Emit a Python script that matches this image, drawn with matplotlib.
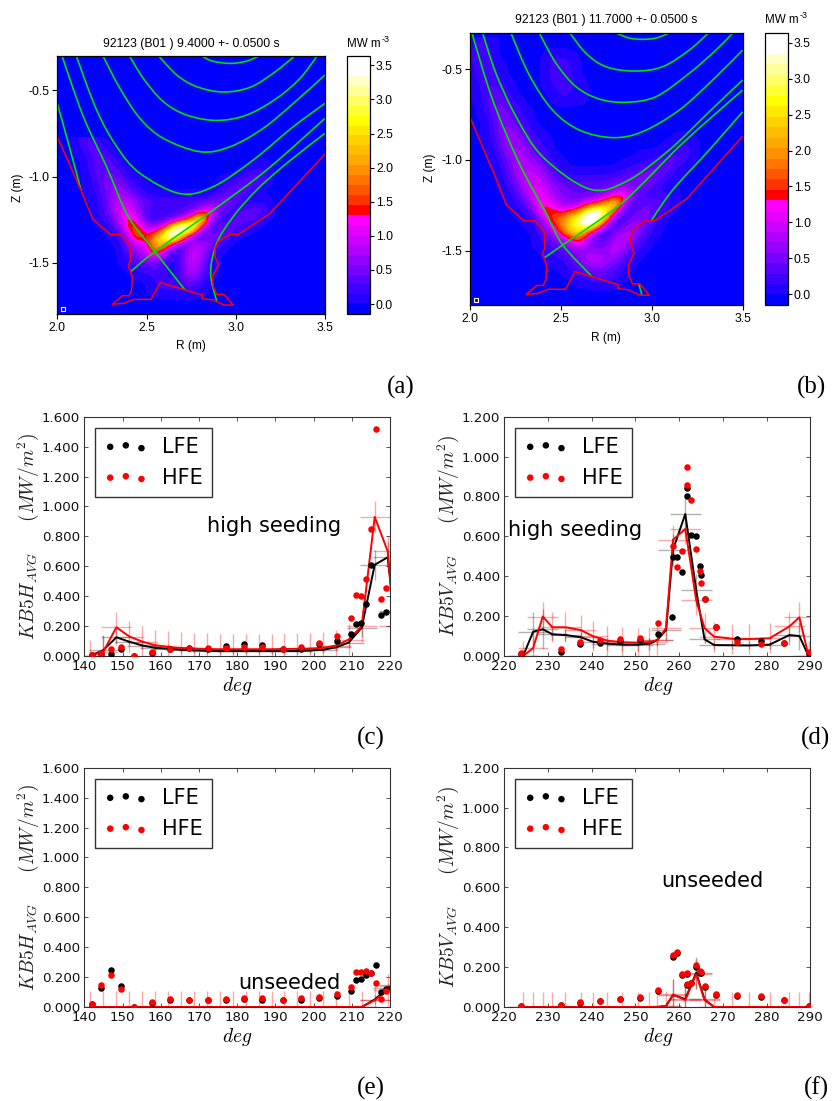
"""Tomographic radiation maps and KB5 bolometer profiles (panels a-f)."""

import numpy as np
import matplotlib

matplotlib.use("Agg")
import matplotlib.pyplot as plt
from matplotlib.colors import BoundaryNorm, ListedColormap
from matplotlib.patches import PathPatch
from matplotlib.path import Path

plt.rcParams["mathtext.fontset"] = "cm"

W, H = 832, 1101

# --- radiation maps: rows in 0.1 MW/m3, columns R = 2.00 .. 3.25 in 0.05 steps
MAP_R = np.arange(26) * 0.05 + 2.0
MAP_A_ZTOP = -0.80
MAP_A = [
    [0,0,0,3,3,0,0,0,0,0,0,0,0,0,0,0,0,0,0,0,0,0,0,0,0,0],
    [0,0,0,2,4,3,0,0,0,0,0,0,0,0,0,0,0,0,0,0,0,0,0,0,0,0],
    [0,0,0,0,3,4,3,0,0,0,0,0,0,0,0,0,0,0,0,0,0,0,0,0,0,0],
    [0,0,0,0,3,4,4,2,0,0,0,0,0,0,0,0,0,0,0,0,0,0,0,1,0,0],
    [0,0,0,0,2,4,5,4,1,0,0,0,0,0,0,0,0,0,0,0,0,2,4,4,0,0],
    [0,0,0,0,1,4,6,6,3,1,0,0,0,0,0,0,0,0,0,2,3,5,4,0,0,0],
    [0,0,0,0,1,3,6,8,6,3,1,0,0,0,0,0,0,0,2,4,5,3,0,0,0,0],
    [0,0,0,0,0,2,6,9,9,6,4,3,3,3,3,3,3,4,6,6,3,0,0,1,0,0],
    [0,0,0,0,0,2,6,10,12,7,3,2,2,2,2,3,7,15,6,3,2,3,5,4,0,0],
    [0,0,0,0,0,1,4,9,15,10,3,1,2,4,8,18,34,12,3,1,3,5,3,0,0,0],
    [0,0,0,0,0,0,1,6,15,17,8,8,14,30,42,40,13,3,2,5,4,1,0,0,0,0],
    [0,0,0,0,0,0,0,2,9,18,15,19,32,42,22,6,1,5,6,2,0,0,0,0,0,0],
    [0,0,0,0,0,0,0,0,6,9,11,24,22,8,2,7,9,7,2,0,0,0,0,0,0,0],
    [0,0,0,0,0,0,0,0,3,6,9,15,8,1,4,10,9,3,0,0,0,0,0,0,0,0],
    [0,0,0,0,0,0,0,0,1,4,5,5,3,0,4,10,7,2,0,0,0,0,0,0,0,0],
    [0,0,0,0,0,0,0,0,0,1,2,2,2,0,4,9,6,1,0,0,0,0,0,0,0,0],
    [0,0,0,0,0,0,0,0,0,0,0,2,2,1,3,6,3,0,0,0,0,0,0,0,0,0],
    [0,0,0,0,0,0,0,0,0,0,0,1,2,2,2,3,1,0,0,0,0,0,0,0,0,0],
    [0,0,0,0,0,0,0,0,0,0,0,0,0,0,0,0,0,0,0,0,0,0,0,0,0,0],
]
MAP_B_ZTOP = -0.35
MAP_B = [
    [0,2,1,0,0,0,0,0,0,0,0,0,0,0,0,0,0,0,0,0,0,0,0,0,0,0],
    [1,3,2,0,0,0,0,0,0,0,0,0,0,0,0,0,0,0,0,0,0,0,0,0,0,0],
    [1,3,3,0,0,0,0,0,0,2,2,1,0,0,0,0,0,0,0,0,0,0,0,0,0,0],
    [0,3,3,1,0,0,0,0,0,2,3,2,0,0,0,0,0,0,0,0,0,0,0,0,0,0],
    [0,2,3,2,0,0,0,0,0,2,3,2,0,0,0,0,0,0,0,0,0,0,0,0,0,0],
    [0,1,3,3,1,0,0,0,0,1,2,2,1,0,0,0,0,0,0,0,0,0,0,0,0,0],
    [0,1,3,4,2,0,0,0,0,0,2,1,1,0,0,0,0,0,0,0,0,0,0,0,0,0],
    [0,0,3,5,4,2,0,0,0,0,0,0,0,0,0,0,0,0,0,0,0,0,0,0,0,0],
    [0,0,2,5,5,3,1,0,0,0,0,0,0,0,0,0,0,0,0,0,0,0,0,0,0,0],
    [0,0,0,5,6,4,2,0,0,0,0,0,0,0,0,0,0,0,0,0,0,0,0,0,0,0],
    [0,0,1,4,7,6,4,1,0,0,0,0,0,0,0,0,0,0,0,0,0,0,0,0,0,0],
    [0,0,0,3,7,7,5,3,1,0,0,0,0,0,0,0,0,0,0,0,0,0,0,1,1,0],
    [0,0,0,2,6,8,7,4,2,0,0,0,0,0,0,0,0,0,0,0,0,0,2,3,2,0],
    [0,0,0,1,4,8,8,6,4,1,0,0,0,0,0,0,0,0,0,1,1,3,4,3,1,0],
    [0,0,0,0,3,7,9,8,6,3,1,0,0,0,0,0,0,1,2,3,5,5,3,1,0,0],
    [0,0,0,0,2,6,9,10,8,5,3,2,2,2,2,2,3,4,5,6,5,3,1,0,0,0],
    [0,0,0,0,1,4,8,11,10,7,5,4,4,4,4,5,5,6,6,5,3,1,0,0,0,0],
    [0,0,0,0,0,2,6,11,11,8,6,5,4,4,5,7,13,16,5,2,2,2,2,0,0,0],
    [0,0,0,0,0,1,3,8,15,12,7,6,8,14,18,24,30,6,2,4,5,3,1,0,0,0],
    [0,0,0,0,0,0,1,4,12,16,15,19,24,36,42,30,8,1,4,6,4,1,0,0,0,0],
    [0,0,0,0,0,0,0,1,6,14,19,26,32,42,30,10,1,4,7,6,3,0,0,0,0,0],
    [0,0,0,0,0,0,0,0,3,7,15,23,26,16,5,1,5,8,8,4,1,0,0,0,0,0],
    [0,0,0,0,0,0,0,0,2,4,6,10,15,6,3,4,9,9,5,2,0,0,0,0,0,0],
    [0,0,0,0,0,0,0,0,0,2,3,5,6,7,6,7,9,6,3,0,0,0,0,0,0,0],
    [0,0,0,0,0,0,0,0,0,1,1,3,5,9,9,7,6,3,0,0,0,0,0,0,0,0],
    [0,0,0,0,0,0,0,0,0,0,0,2,3,5,6,5,3,1,0,0,0,0,0,0,0,0],
    [0,0,0,0,0,0,0,0,0,0,0,0,1,2,3,3,2,0,0,0,0,0,0,0,0,0],
    [0,0,0,0,0,0,0,0,0,0,0,0,0,0,0,0,0,0,0,0,0,0,0,0,0,0],
]

# first wall outline, same in both maps
WALL_R = [2.0,2.136,2.198,2.295,2.355,2.407,2.411,2.398,2.42,2.417,2.402,2.366,2.308,2.37,
          2.432,2.525,2.577,2.813,2.813,2.874,2.934,2.986,2.934,2.893,2.874,2.87,2.902,
          2.884,2.884,2.902,2.964,3.014,3.192,3.313,3.5]
WALL_Z = [-0.768,-1.088,-1.246,-1.336,-1.336,-1.397,-1.485,-1.517,-1.581,-1.659,-1.692,-1.692,
          -1.742,-1.736,-1.713,-1.713,-1.616,-1.688,-1.709,-1.717,-1.746,-1.746,-1.684,-1.684,
          -1.639,-1.581,-1.514,-1.465,-1.417,-1.378,-1.336,-1.336,-1.214,-1.078,-0.869]

# flux surfaces (R, Z)
FLUX_A = [
    ([2.81,2.87,2.97,3.06,3.13], [-0.30,-0.33,-0.343,-0.33,-0.30]),
    ([2.572,2.669,2.781,2.93,3.08,3.21,3.326], [-0.304,-0.41,-0.478,-0.509,-0.482,-0.40,-0.304]),
    ([2.407,2.482,2.594,2.725,2.893,3.061,3.229,3.36,3.453],
     [-0.304,-0.43,-0.565,-0.643,-0.674,-0.643,-0.546,-0.43,-0.304]),
    ([2.258,2.351,2.463,2.594,2.80,2.968,3.154,3.323,3.5],
     [-0.304,-0.488,-0.662,-0.778,-0.856,-0.827,-0.72,-0.575,-0.41]),
    ([2.108,2.22,2.333,2.463,2.687,2.874,3.098,3.323,3.5],
     [-0.304,-0.613,-0.826,-0.981,-1.099,-1.059,-0.904,-0.71,-0.575]),
    ([2.028,2.146,2.276,2.398,2.547,2.716], [-0.304,-0.652,-0.943,-1.233,-1.436,-1.659]),
    ([2.411,2.547,2.874,3.173,3.5], [-1.552,-1.436,-1.194,-0.962,-0.662]),
    ([2.0,2.052,2.133], [-0.575,-0.768,-1.078]),
    ([2.893,2.859,2.893,2.986,3.117,3.285,3.5], [-1.723,-1.562,-1.388,-1.233,-1.078,-0.923,-0.749]),
]
FLUX_B = [
    ([2.802,2.876,2.949,3.023,3.096], [-0.30,-0.328,-0.335,-0.328,-0.30]),
    ([2.549,2.637,2.747,2.903,3.059,3.206,3.311], [-0.30,-0.412,-0.486,-0.51,-0.486,-0.394,-0.30]),
    ([2.38,2.472,2.582,2.71,2.857,3.023,3.206,3.353,3.445],
     [-0.30,-0.467,-0.596,-0.664,-0.682,-0.651,-0.522,-0.394,-0.30]),
    ([2.224,2.325,2.453,2.60,2.784,2.949,3.151,3.335,3.5],
     [-0.30,-0.532,-0.725,-0.835,-0.877,-0.844,-0.725,-0.559,-0.394]),
    ([2.068,2.141,2.252,2.398,2.655,2.857,3.096,3.316,3.5],
     [-0.30,-0.522,-0.761,-0.982,-1.16,-1.12,-0.945,-0.734,-0.559]),
    ([2.009,2.123,2.27,2.417,2.509,2.665], [-0.30,-0.669,-1.019,-1.294,-1.469,-1.638]),
    ([2.408,2.509,2.839,3.169,3.5], [-1.539,-1.469,-1.234,-0.908,-0.614]),
    ([2.999,3.114,3.316,3.5], [-1.331,-1.166,-0.945,-0.734]),
    ([2.945,2.927], [-1.745,-1.68]),
]

# --- KB5H profiles
H_GRID = [141.6,145,148.4,151.8,155.2,158.5,161.9,165.3,168.7,172.1,175.4,178.8,182.2,185.6,189,
          192.3,195.7,199.1,202.5,205.9,209.2,212.6,216,219.4,221]
C_LINE_LFE = [0,.04,.125,.095,.07,.055,.048,.042,.038,.035,.033,.033,.033,.033,.033,
              .033,.034,.037,.042,.058,.09,.19,.61,.66,.3]
C_LINE_HFE = [0,.03,.192,.13,.096,.072,.06,.054,.05,.047,.045,.045,.045,.045,.045,
              .047,.048,.05,.055,.07,.11,.2,.93,.70,.2]
C_ERR_LFE = [0,.1,.05,.02,.02,.02,.02,.02,.02,.02,.02,.02,.02,.02,.02,
             .02,.02,.02,.02,.02,.03,.06,.1,.1,.1]
E_LINE_LFE = [0]*21 + [0,.05,.125,.15]
E_LINE_HFE = [0]*21 + [0,.045,.115,.14]
E_ERR_LFE = [.005]*22 + [.03,.03,.03]

H_DEG = [142,144.4,147,149.6,153,157.8,162.4,167.3,172.4,177,181.9,186.6,192,196.7,201.5,206.2,
         209.7,211,212.3,213.7,215,216.3,217.6,219]
C_LFE = [.005,.012,.013,.047,0,.02,.05,.055,.05,.065,.08,.073,.05,.05,.078,.103,
         .147,.217,.223,.346,.61,np.nan,.275,.297]
C_HFE = [.01,.018,.045,.063,0,.027,.05,.052,.055,.055,.06,.062,.05,.06,.085,.136,
         .255,.41,.40,.516,.85,1.515,.38,.454]
E_LFE = [.02,.125,.248,.139,0,.03,.05,.045,.045,.045,.051,.05,.045,.047,.063,.074,
         .105,.179,.19,.215,.23,.284,.098,.118]
E_HFE = [.022,.145,.215,.123,0,.033,.054,.049,.049,.051,.058,.058,.047,.058,.069,.085,
         .134,.235,.235,.239,.23,.161,.056,.11]

# --- KB5V profiles
V_GRID = [224.3,226.6,228.8,231,234,237.5,240.2,243.6,247,250.5,253.2,255,257,258.6,261.4,263.9,
          265.8,268,272,276,280.7,285.2,287.5,289.6]
D_LINE_LFE = [0,.122,.134,.109,.105,.094,.072,.062,.057,.057,.062,.08,.13,.533,.712,.33,
              .084,.055,.054,.053,.057,.105,.1,0]
D_LINE_HFE = [0,.04,.198,.144,.144,.13,.1,.077,.069,.067,.07,.08,.14,.583,.637,.28,
              .14,.097,.087,.085,.089,.148,.194,0]
D_ERR_LFE = [0,.1,.1,.03,.03,.03,.03,.03,.03,.03,.03,.03,.05,.08,.08,.08,
             .02,.02,.02,.02,.02,.05,.07,0]
F_LINE_LFE = [0]*12 + [.005,.06,.04,.172,.038,0,0,0,0,0,0,0]
F_LINE_HFE = [0]*12 + [.005,.063,.035,.165,.035,0,0,0,0,0,0,0]
F_ERR_LFE = [.005]*13 + [.08,.08,.08,.08] + [.005]*7

V_DEG = [223.8,232.9,237.4,242,246.5,251,255.2,258.3,258.7,259.5,260.6,261.7,261.7,262.8,263.9,
         264.7,265,266,268.4,273.2,278.7,284,289.6]
D_LFE = [.01,.022,.06,.064,.077,.08,.11,.198,.494,.496,.419,.804,.843,.608,.6,
         .449,.404,.287,.146,.084,.074,.064,.01]
D_HFE = [.015,.033,.072,.08,.087,.092,.165,np.nan,.553,.447,.528,.855,.947,.78,.536,
         .424,.367,.287,.146,.072,.062,.064,.018]
F_LFE = [.005,.01,.02,.03,.04,.045,.08,np.nan,.25,.27,.16,.165,.11,.12,.2,
         .17,.17,.1,.06,.055,.05,.035,.005]
F_HFE = [.005,.01,.023,.03,.04,.049,.087,np.nan,.26,.277,.163,.169,.114,.122,.21,
         .179,.178,.106,.064,.06,.057,.037,.007]

BAND_COLORS = ["#0000ff", "#2200ff", "#3f00ff", "#5a00ff", "#7800ff", "#9500ff", "#b200ff",
               "#cc00ff", "#e500ff", "#ff00ff", "#ff0000", "#ff3300", "#ff5500", "#ff7500",
               "#ff9000", "#ffa800", "#ffbd00", "#ffd200", "#ffe800", "#ffff00", "#ffff33",
               "#ffff66", "#ffff99", "#ffffcc", "#ffffff", "#ffffff"]
LFE_COLOR = "black"
HFE_COLOR = "red"
SANS = "Liberation Sans"


def px_axes(fig, left, top, right, bottom):
    return fig.add_axes([left / W, 1 - bottom / H, (right - left) / W, (bottom - top) / H])


def px_text(fig, x, y, s, **kw):
    kw.setdefault("ha", "center")
    kw.setdefault("va", "center")
    fig.text(x / W, 1 - y / H, s, **kw)


def smooth_path(r, z):
    """Bezier path running through the read-off points of one flux surface."""
    pts = np.column_stack([r, z])
    if len(pts) < 3:
        return Path(pts)
    padded = np.vstack([pts[0], pts, pts[-1]])
    verts = [pts[0]]
    for i in range(1, len(padded) - 2):
        p0, p1, p2, p3 = padded[i - 1], padded[i], padded[i + 1], padded[i + 2]
        verts += [p1 + (p2 - p0) / 6, p2 - (p3 - p1) / 6, p2]
    codes = [Path.MOVETO] + [Path.CURVE4] * (len(verts) - 1)
    return Path(verts, codes)


def plot_map(fig, box, cbox, heat, ztop, flux, title, title_xy, unit_xy, xlabel_xy, ylabel_xy):
    ax = px_axes(fig, *box)
    cax = px_axes(fig, *cbox)
    bounds = np.linspace(-0.15, 3.637, 27)
    bounds[1] = 0.01
    norm = BoundaryNorm(bounds, len(BAND_COLORS))
    cmap = ListedColormap(BAND_COLORS)

    values = np.array(heat) / 10.0
    zbot = ztop - 0.05 * (len(heat) - 1)
    ax.set_facecolor("#0000ff")
    im = ax.imshow(values, cmap=cmap, norm=norm, aspect="auto", interpolation="bicubic",
                   interpolation_stage="data",
                   extent=(MAP_R[0] - 0.025, MAP_R[-1] + 0.025, zbot - 0.025, ztop + 0.025))
    for r, z in flux:
        ax.add_patch(PathPatch(smooth_path(r, z), fill=False, edgecolor="#00e000", lw=1.2))
    ax.plot(WALL_R, WALL_Z, color="#ff0000", lw=1.1)
    ax.plot([2.03], [-1.77], "s", mfc="#0000ff", mec="white", ms=3, mew=0.8)

    ax.set_xlim(2.0, 3.5)
    ax.set_ylim(-1.8, -0.3)
    ax.set_xticks([2.0, 2.5, 3.0, 3.5])
    ax.set_yticks([-0.5, -1.0, -1.5])
    ax.set_yticklabels(["-0.5", "-1.0", "-1.5"])
    ax.tick_params(direction="out", length=3.5, width=0.8, labelsize=8.7, pad=2)
    for label in ax.get_xticklabels() + ax.get_yticklabels():
        label.set_fontfamily(SANS)
    for spine in ax.spines.values():
        spine.set_linewidth(0.9)

    cb = fig.colorbar(im, cax=cax, ticks=[0, 0.5, 1, 1.5, 2, 2.5, 3, 3.5], format="%.1f",
                      spacing="proportional")
    cb.minorticks_off()
    cb.ax.tick_params(direction="out", length=3, width=0.8, labelsize=8.7, pad=1.5)
    for label in cb.ax.get_yticklabels():
        label.set_fontfamily(SANS)
    cb.outline.set_linewidth(0.9)

    px_text(fig, *title_xy, title, fontsize=8.7, family=SANS)
    px_text(fig, *unit_xy, "MW m", fontsize=8.4, family=SANS, ha="left")
    px_text(fig, unit_xy[0] + 35, unit_xy[1] - 5, "-3", fontsize=6.5, family=SANS, ha="left")
    px_text(fig, *xlabel_xy, "R (m)", fontsize=8.6, family=SANS)
    px_text(fig, *ylabel_xy, "Z (m)", fontsize=8.6, family=SANS, rotation=90)


def plot_profile(fig, box, grid, line_lfe, line_hfe, err_lfe, deg, lfe, hfe, xlim, ylim, xticks,
                 yticks, xerr, yerr, kb_label, note, note_xy, xlabel_xy, ylabel_xy):
    ax = px_axes(fig, *box)
    ax.errorbar(grid, line_lfe, xerr=xerr, yerr=err_lfe, color=LFE_COLOR, lw=1.4,
                ecolor=(0, 0, 0, 0.3), elinewidth=1.0, capsize=0)
    ax.errorbar(grid, line_hfe, xerr=xerr, yerr=yerr, color=HFE_COLOR, lw=1.4,
                ecolor=(1, 0, 0, 0.35), elinewidth=1.0, capsize=0)
    ax.scatter(deg, lfe, s=22, color=LFE_COLOR, linewidths=0, zorder=5, label="LFE")
    ax.scatter(deg, hfe, s=22, color=HFE_COLOR, linewidths=0, zorder=6, label="HFE")

    ax.set_xlim(*xlim)
    ax.set_ylim(*ylim)
    ax.set_xticks(xticks)
    ax.set_yticks(yticks)
    ax.set_yticklabels([f"{v:.3f}" for v in yticks])
    ax.tick_params(direction="in", top=True, right=True, length=3, width=0.5,
                   labelsize=9.6, pad=3, colors="#111111")
    for spine in ax.spines.values():
        spine.set_linewidth(0.8)
        spine.set_edgecolor("#333333")

    ax.legend(loc="upper left", bbox_to_anchor=(0.035, 0.951), borderaxespad=0, fontsize=15,
              scatterpoints=3, scatteryoffsets=[0.45, 0.55, 0.36], fancybox=False, framealpha=1,
              edgecolor="#333333", borderpad=0.43, labelspacing=0.52, handlelength=2.1,
              handletextpad=0.69)

    px_text(fig, *note_xy, note, fontsize=15)
    px_text(fig, *xlabel_xy, r"$deg$", fontsize=14)
    px_text(fig, *ylabel_xy, kb_label, fontsize=14, rotation=90, color="#222222")


def main():
    fig = plt.figure(figsize=(W / 100, H / 100), dpi=100)

    plot_map(fig, (57.3, 56, 325, 314.3), (347, 56, 369.7, 314.3), MAP_A, MAP_A_ZTOP, FLUX_A,
             "92123 (B01 ) 9.4000 +- 0.0500 s", (191, 44), (347, 44), (191, 346), (18, 188))
    plot_map(fig, (470.3, 33, 742.7, 305), (765, 33, 787.7, 305), MAP_B, MAP_B_ZTOP, FLUX_B,
             "92123 (B01 ) 11.7000 +- 0.0500 s", (606, 20), (765, 20), (606, 338), (430, 168))

    h_xticks = list(range(140, 221, 10))
    v_xticks = list(range(220, 291, 10))
    h_yticks = [0, .2, .4, .6, .8, 1.0, 1.2, 1.4, 1.6]
    v_yticks = [0, .2, .4, .6, .8, 1.0, 1.2]
    h_label = r"$KB5H_{AVG}\quad\;\;\;(MW/m^2)$"
    v_label = r"$KB5V_{AVG}\quad\;\;\;(MW/m^2)$"

    plot_profile(fig, (84.3, 416.7, 390, 656), H_GRID, C_LINE_LFE, C_LINE_HFE, C_ERR_LFE, H_DEG, C_LFE,
                 C_HFE, (140, 220), (0, 1.6), h_xticks, h_yticks, 3.9, 0.105, h_label,
                 "high seeding", (274, 526), (237, 686), (28, 536))
    plot_profile(fig, (504.3, 416.7, 810.3, 656), V_GRID, D_LINE_LFE, D_LINE_HFE, D_ERR_LFE, V_DEG, D_LFE,
                 D_HFE, (220, 290), (0, 1.2), v_xticks, v_yticks, 3.5, 0.075, v_label,
                 "high seeding", (575, 530), (658, 686), (448, 536))
    plot_profile(fig, (84.3, 767.7, 390, 1007), H_GRID, E_LINE_LFE, E_LINE_HFE, E_ERR_LFE, H_DEG, E_LFE,
                 E_HFE, (140, 220), (0, 1.6), h_xticks, h_yticks, 3.9, 0.105, h_label,
                 "unseeded", (289, 983), (237, 1037), (28, 887))
    plot_profile(fig, (504.3, 767.7, 810.3, 1007), V_GRID, F_LINE_LFE, F_LINE_HFE, F_ERR_LFE, V_DEG, F_LFE,
                 F_HFE, (220, 290), (0, 1.2), v_xticks, v_yticks, 3.5, 0.075, v_label,
                 "unseeded", (712, 881), (658, 1037), (448, 887))

    for s, x, y in (("(a)", 401, 387), ("(b)", 811, 387), ("(c)", 371, 738),
                    ("(d)", 816, 738), ("(e)", 371, 1088), ("(f)", 816, 1088)):
        px_text(fig, x, y, s, fontsize=18, family="Liberation Serif")

    fig.savefig("out.png", dpi=100)
    plt.close(fig)


if __name__ == "__main__":
    main()
